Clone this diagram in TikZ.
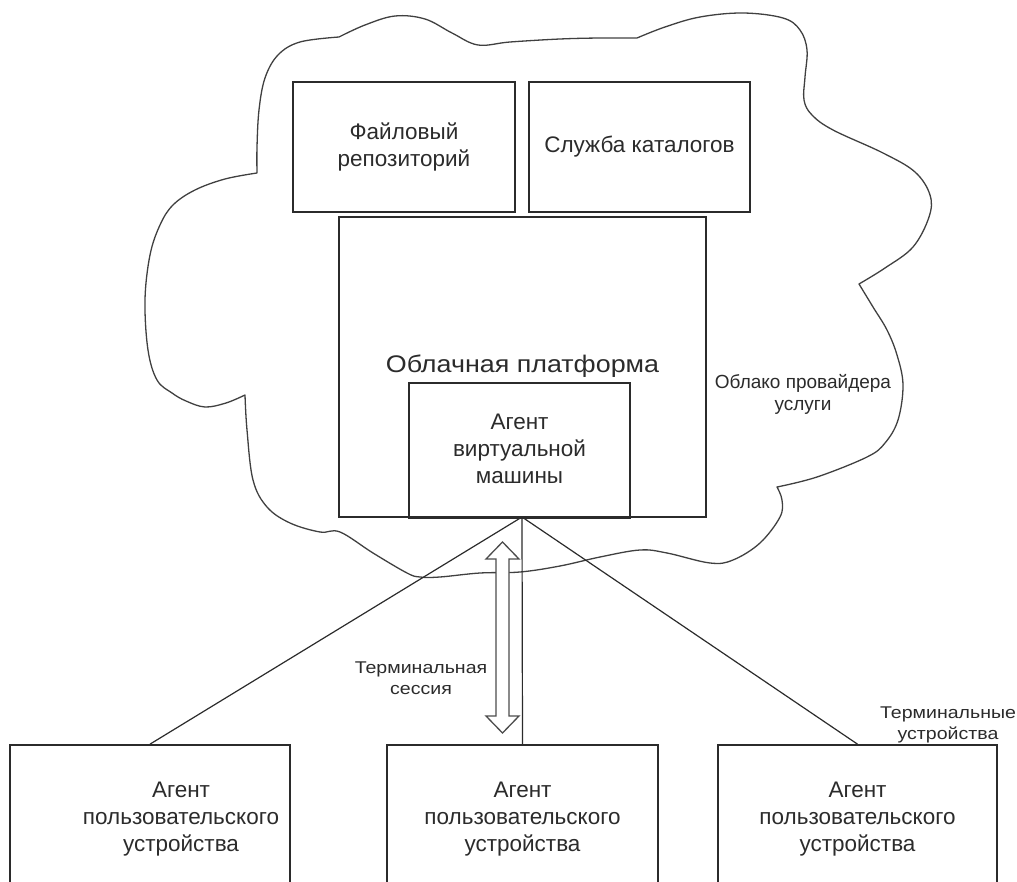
\documentclass[tikz,border=0pt]{standalone}
\usepackage{fontspec}
\setmainfont{Liberation Sans}
\newfontfamily\widefont[FakeStretch=1.12]{Liberation Sans}
\newfontfamily\lblfont[FakeStretch=1.15]{Liberation Sans}
\definecolor{ink}{HTML}{2B2B2B}
\tikzset{
  boxnode/.style={draw=ink, line width=1.7pt, inner sep=0pt},
  boxtext/.style={font=\fontsize{22.5pt}{27pt}\selectfont, align=center, inner sep=0pt, text=ink},
  smalltext/.style={font=\lblfont\fontsize{17pt}{21pt}\selectfont, align=center, inner sep=0pt, text=ink},
  cloudtext/.style={font=\fontsize{19pt}{22pt}\selectfont, align=center, inner sep=0pt, text=ink},
  link/.style={draw=ink, line width=1.2pt},
  cloudline/.style={draw=black!75, line width=1.3pt, line join=round, line cap=round},
  hollowarrow/.style={draw=black!70, line width=1.3pt, fill=white, line join=miter}
}
\begin{document}
\begin{tikzpicture}[x=1pt, y=-1pt]
\useasboundingbox (0,0) rectangle (1017,882);
\clip (0,0) rectangle (1017,882);

% cloud
\draw[cloudline]
  plot[smooth, tension=0.6] coordinates {(245,395) (226,403) (205,407) (186,401) (172,393) (157,380) (148,350) (145,300) (150,255) (160,225) (173,205) (195,190) (225,179) (257,173)}
  -- plot[smooth, tension=0.6] coordinates {(257,173) (257,147) (259,110) (265,78) (278,55) (300,42) (339,37)}
  -- plot[smooth, tension=0.6] coordinates {(339,37) (365,25) (395,16) (425,19) (452,33) (478,45) (510,42) (560,39) (600,38) (637,38)}
  -- plot[smooth, tension=0.6] coordinates {(637,38) (665,27) (700,17) (743,13) (783,18) (800,30) (807,50) (805,77) (804,100) (812,115) (833,130) (883,153) (915,172) (930,195) (929,217) (913,247) (885,268) (859,284)}
  -- plot[smooth, tension=0.6] coordinates {(859,284) (873,307) (887,330) (897,355) (903,385) (898,420) (885,443) (867,457) (817,477) (777,487)}
  -- plot[smooth, tension=0.6] coordinates {(777,487) (782,500) (780,517) (760,543) (733,560) (710,563) (667,553) (640,550) (600,557) (560,566) (520,572) (480,573) (440,577) (420,577) (407,573) (373,553) (340,532) (320,532) (290,523) (267,507) (253,480) (247,430) (245,395)};

% boxes inside the cloud
\node[boxnode, minimum width=222pt, minimum height=130pt, boxtext] (repo) at (404,147) {Файловый\\репозиторий};
\node[boxnode, minimum width=221pt, minimum height=130pt, boxtext] (cat) at (639.5,147) {Служба каталогов};
\node[boxnode, minimum width=367pt, minimum height=300pt] (plat) at (522.5,367) {};
\node[font=\widefont\fontsize{24pt}{28pt}\selectfont, inner sep=0pt, anchor=base, text=ink] (platlbl) at (522.5,373) {Облачная платформа};
\node[boxnode, minimum width=221pt, minimum height=134pt] (vm) at (519.5,450) {};
\node[boxtext, text depth=0pt] (vmtxt) at (519.5,449) {Агент\\виртуальной\\машины};
\draw[ink, line width=3pt] (vm.south west) -- (vm.south east);

\node[cloudtext] (cloudlbl) at (803,394) {Облако провайдера\\услуги};

% terminal devices
\node[boxnode, minimum width=280pt, minimum height=155pt] (dev1) at (150,822.5) {};
\node[boxnode, minimum width=271pt, minimum height=155pt] (dev2) at (522.5,822.5) {};
\node[boxnode, minimum width=279pt, minimum height=155pt] (dev3) at (857.5,822.5) {};
\node[boxtext] (dev1txt) at (181,819) {Агент\\пользовательского\\устройства};
\node[boxtext] (dev2txt) at (522.5,819) {Агент\\пользовательского\\устройства};
\node[boxtext] (dev3txt) at (857.5,819) {Агент\\пользовательского\\устройства};

% connectors
\coordinate (apex) at (522,517);
\draw[link] (apex) -- (dev1.north);
\draw[link] (apex) -- (dev2.north);
\draw[link] (apex) -- (dev3.north);

% terminal session arrow
\draw[hollowarrow] (502.5,542) -- (519,559) -- (509,559) -- (509,716) -- (519,716) -- (502.5,733)
  -- (486,716) -- (496,716) -- (496,559) -- (486,559) -- cycle;

\node[smalltext] (sesslbl) at (421,678) {Терминальная\\сессия};
\node[smalltext] (termlbl) at (948,725) {Терминальные\\устройства};
\end{tikzpicture}
\end{document}
